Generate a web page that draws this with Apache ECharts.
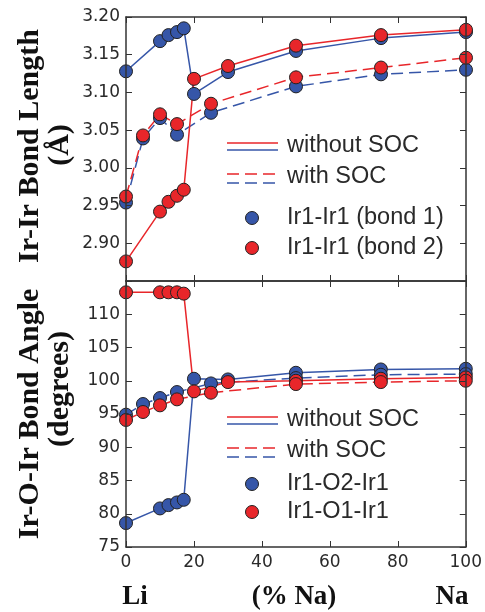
<!DOCTYPE html>
<html>
<head>
<meta charset="utf-8">
<script src="https://cdn.jsdelivr.net/npm/echarts@6/dist/echarts.min.js"></script>
<style>html,body{margin:0;padding:0;background:#fff}#c{width:485px;height:612px}</style>
</head>
<body>
<div id="c"></div>
<script>
// ---- data ----
const xNoSoc = [0, 10, 12.5, 15, 17, 20, 30, 50, 75, 100];
const xSoc = [0, 5, 10, 15, 25, 50, 75, 100];
const lenBond1NoSoc = [3.128, 3.168, 3.176, 3.180, 3.185, 3.098, 3.127, 3.155, 3.172, 3.180];
const lenBond2NoSoc = [2.876, 2.942, 2.955, 2.963, 2.971, 3.118, 3.135, 3.162, 3.176, 3.183];
const lenBond1Soc = [2.954, 3.039, 3.066, 3.044, 3.073, 3.108, 3.124, 3.130];
const lenBond2Soc = [2.962, 3.043, 3.071, 3.058, 3.085, 3.120, 3.133, 3.146];
const angO2NoSoc = [78.6, 80.8, 81.3, 81.7, 82.1, 100.3, 100.2, 101.2, 101.7, 101.8];
const angO1NoSoc = [113.3, 113.3, 113.3, 113.3, 113.1, 98.4, 99.8, 100.0, 100.3, 100.5];
const angO2Soc = [94.9, 96.5, 97.4, 98.3, 99.6, 100.4, 100.9, 101.0];
const angO1Soc = [94.1, 95.3, 96.3, 97.2, 98.2, 99.5, 99.8, 100.0];
const xTicks = [0, 20, 40, 60, 80, 100];
const lenTicks = [2.85, 3.20, 0.05];
const angTicks = [75, 115, 5];
const legendTop = ['without SOC', 'with SOC', 'Ir1-Ir1 (bond 1)', 'Ir1-Ir1 (bond 2)'];
const legendBot = ['without SOC', 'with SOC', 'Ir1-O2-Ir1', 'Ir1-O1-Ir1'];

const BLUE = '#3656a8', RED = '#e8262a', INK = '#2a2a2a';
const pair = (xs, ys) => xs.map((x, i) => [x, ys[i]]);

const chart = echarts.init(document.getElementById('c'), null, {renderer: 'canvas'});

function xAx(grid, pos, labels) {
  return {
    type: 'value', gridIndex: grid, position: pos, min: xTicks[0], max: xTicks[xTicks.length - 1], interval: 20, z: 5,
    axisLine: {show: true, onZero: false, lineStyle: {color: '#333', width: 1.5}},
    axisTick: {show: true, inside: true, length: 6, lineStyle: {color: '#333', width: 1}},
    axisLabel: {show: labels, color: INK, fontFamily: 'DejaVu Sans', fontSize: 17, margin: 7},
    splitLine: {show: false}
  };
}
function yAx(grid, pos, t, labels, fmt) {
  return {
    type: 'value', gridIndex: grid, position: pos, min: t[0], max: t[1], interval: t[2], z: 5,
    axisLine: {show: true, onZero: false, lineStyle: {color: '#333', width: 1.5}},
    axisTick: {show: true, inside: true, length: 6, lineStyle: {color: '#333', width: 1}},
    axisLabel: {show: labels, color: INK, fontFamily: 'DejaVu Sans', fontSize: 17, margin: 6, formatter: fmt},
    splitLine: {show: false}
  };
}
function ser(xi, yi, data, color, dashed) {
  return {
    type: 'line', xAxisIndex: xi, yAxisIndex: yi, data: data, symbol: 'circle', symbolSize: 13,
    clip: false, animation: false,
    lineStyle: {color: color, width: 1.5, type: dashed ? [12, 6] : 'solid'},
    itemStyle: {color: color, borderColor: '#222', borderWidth: 1}
  };
}
const legFont = '23.5px "Liberation Sans"';
function legendBlock(top, names) {
  const L = 227, R = 278, T = 287, els = [];
  els.push({type: 'line', shape: {x1: L, y1: top, x2: R, y2: top}, style: {stroke: RED, lineWidth: 1.5}, z: 20});
  els.push({type: 'line', shape: {x1: L, y1: top + 7, x2: R, y2: top + 7}, style: {stroke: BLUE, lineWidth: 1.5}, z: 20});
  els.push({type: 'text', x: T, y: top + 3, style: {text: names[0], font: legFont, fill: INK, align: 'left', verticalAlign: 'middle'}, z: 20});
  const t2 = top + 31;
  els.push({type: 'line', shape: {x1: L, y1: t2, x2: R, y2: t2}, style: {stroke: RED, lineWidth: 1.5, lineDash: [12, 6]}, z: 20});
  els.push({type: 'line', shape: {x1: L, y1: t2 + 9, x2: R, y2: t2 + 9}, style: {stroke: BLUE, lineWidth: 1.5, lineDash: [12, 6]}, z: 20});
  els.push({type: 'text', x: T, y: t2 + 3, style: {text: names[1], font: legFont, fill: INK, align: 'left', verticalAlign: 'middle'}, z: 20});
  return els;
}
function markerLegend(y1, y2, names) {
  return [
    {type: 'circle', shape: {cx: 252, cy: y1, r: 6.5}, style: {fill: BLUE, stroke: '#222', lineWidth: 1}, z: 20},
    {type: 'text', x: 287, y: y1, style: {text: names[2], font: legFont, fill: INK, align: 'left', verticalAlign: 'middle'}, z: 20},
    {type: 'circle', shape: {cx: 252, cy: y2, r: 6.5}, style: {fill: RED, stroke: '#222', lineWidth: 1}, z: 20},
    {type: 'text', x: 287, y: y2, style: {text: names[3], font: legFont, fill: INK, align: 'left', verticalAlign: 'middle'}, z: 20}
  ];
}
const serif = 'bold 30px "Liberation Serif"';
const serifX = 'bold 27px "Liberation Serif"';
function vtext(x, y, s) {
  return {type: 'text', x: x, y: y, rotation: Math.PI / 2,
    style: {text: s, font: serif, fill: '#111', align: 'center', verticalAlign: 'middle'}, z: 20};
}

const option = {
  backgroundColor: '#fff',
  animation: false,
  grid: [
    {left: 126, right: 19, top: 17, height: 264, containLabel: false},
    {left: 126, right: 19, top: 281, height: 266, containLabel: false}
  ],
  xAxis: [xAx(0, 'bottom', false), xAx(0, 'top', false), xAx(1, 'bottom', true), xAx(1, 'top', false)],
  yAxis: [
    yAx(0, 'left', lenTicks, true, v => (v < 2.86 ? '' : v.toFixed(2))),
    yAx(0, 'right', lenTicks, false),
    yAx(1, 'left', angTicks, true, v => (v > 114 ? '' : String(Math.round(v)))),
    yAx(1, 'right', angTicks, false)
  ],
  series: [
    ser(0, 0, pair(xNoSoc, lenBond1NoSoc), BLUE, false),
    ser(0, 0, pair(xSoc, lenBond1Soc), BLUE, true),
    ser(0, 0, pair(xNoSoc, lenBond2NoSoc), RED, false),
    ser(0, 0, pair(xSoc, lenBond2Soc), RED, true),
    ser(2, 2, pair(xNoSoc, angO2NoSoc), BLUE, false),
    ser(2, 2, pair(xSoc, angO2Soc), BLUE, true),
    ser(2, 2, pair(xNoSoc, angO1NoSoc), RED, false),
    ser(2, 2, pair(xSoc, angO1Soc), RED, true)
  ],
  graphic: [
    // masks so edge markers appear clipped by the frame
    {type: 'rect', shape: {x: 0, y: 0, width: 126, height: 612}, style: {fill: '#fff'}, z: 3},
    {type: 'rect', shape: {x: 466, y: 0, width: 19, height: 612}, style: {fill: '#fff'}, z: 3},
    vtext(30, 146, 'Ir-Ir Bond Length'),
    vtext(60, 145, '(Å)'),
    vtext(30, 414, 'Ir-O-Ir Bond Angle'),
    vtext(60, 389, '(degrees)'),
    {type: 'text', x: 135, y: 597, style: {text: 'Li', font: serifX, fill: '#111', align: 'center', verticalAlign: 'middle'}, z: 20},
    {type: 'text', x: 294, y: 597, style: {text: '(% Na)', font: serifX, fill: '#111', align: 'center', verticalAlign: 'middle'}, z: 20},
    {type: 'text', x: 452, y: 597, style: {text: 'Na', font: serifX, fill: '#111', align: 'center', verticalAlign: 'middle'}, z: 20}
  ].concat(legendBlock(143, legendTop), markerLegend(218, 248, legendTop),
           legendBlock(417, legendBot), markerLegend(484, 512, legendBot))
};
chart.setOption(option);
</script>
</body>
</html>
